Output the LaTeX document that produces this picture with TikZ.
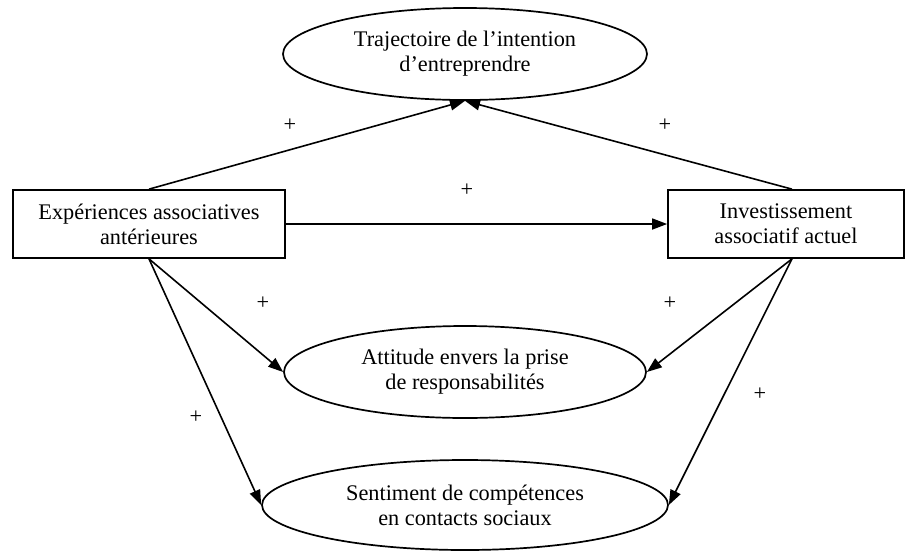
\documentclass[tikz,border=0pt]{standalone}
\usepackage{fontspec}
\setmainfont{Liberation Serif}
\usetikzlibrary{arrows.meta,shapes.geometric}
\tikzset{
  txt/.style={font=\fontsize{22.3}{25}\selectfont, align=center},
  ell/.style={txt, draw, ellipse, line width=1.7pt, inner sep=0pt},
  boxnode/.style={txt, draw, rectangle, line width=1.7pt, inner sep=0pt},
  arr/.style={line width=1.6pt, -{Triangle[length=15pt,width=11pt]}},
  plus/.style={font=\fontsize{22.3}{25}\selectfont, inner sep=0pt}
}
\begin{document}
\begin{tikzpicture}[x=1pt,y=-1pt]
\useasboundingbox (0,0) rectangle (906,550);
\node[ell, minimum width=364pt, minimum height=92pt] (T) at (465,54) {Trajectoire de l’intention\\d’entreprendre};
\node[boxnode, minimum width=272pt, minimum height=68pt] (L) at (149,224) {Expériences associatives\\antérieures};
\node[boxnode, minimum width=236pt, minimum height=68pt] (R) at (786,224) {Investissement\\associatif actuel};
\node[ell, minimum width=362pt, minimum height=92pt] (M) at (465,372) {Attitude envers la prise\\de responsabilités};
\node[ell, minimum width=406pt, minimum height=90pt] (B) at (465,505) {Sentiment de compétences\\en contacts sociaux};
\coordinate (Rs) at ([xshift=6pt]R.south);
\coordinate (Rn) at ([xshift=6pt]R.north);
\draw[arr] (L.north) -- (T.south);
\draw[arr] (Rn) -- (T.south);
\draw[arr] (L.east) -- (R.west);
\draw[arr] (L.south) -- (M.west);
\draw[arr] (L.south) -- (B.west);
\draw[arr] (Rs) -- (M.east);
\draw[arr] (Rs) -- (B.east);
\node[plus] (p1) at (290,125) {+};
\node[plus] (p2) at (665,125) {+};
\node[plus] (p3) at (467,190) {+};
\node[plus] (p4) at (263,303) {+};
\node[plus] (p5) at (670,303) {+};
\node[plus] (p6) at (196,417) {+};
\node[plus] (p7) at (760,394) {+};
\end{tikzpicture}
\end{document}
